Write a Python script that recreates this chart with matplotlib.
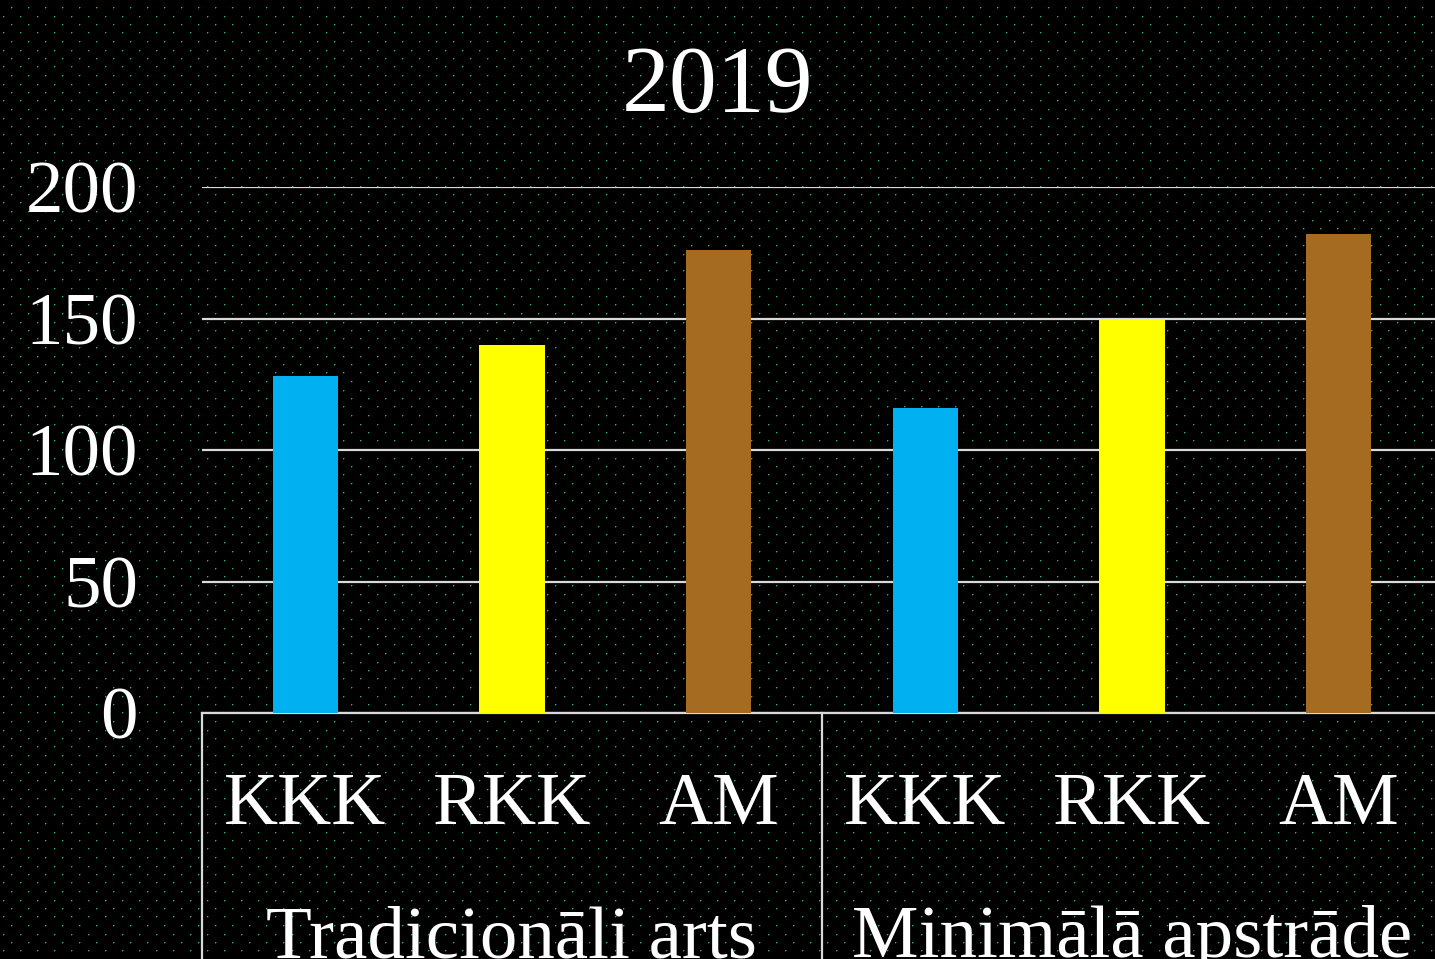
import numpy as np
import matplotlib.pyplot as plt

plt.rcParams['font.family'] = ['Liberation Serif', 'DejaVu Serif']

# data
title = '2019'
groups = ['Tradicionāli arts', 'Minimālā apstrāde']
series = ['KKK', 'RKK', 'AM']
colors = ['#00b0f0', '#ffff00', '#a56b21']
values_trad = [128, 140, 176]
values_min = [116, 150, 182]
yticks = [0, 50, 100, 150, 200]

W, H = 1435, 959
fig = plt.figure(figsize=(W / 100, H / 100), dpi=100)
fig.patch.set_facecolor('black')

# dotted background
bg = np.zeros((H, W, 3))
dot = np.array([40, 175, 140]) / 255.0
dot2 = np.array([15, 70, 55]) / 255.0
for k in range(int(H / 8.5) + 1):
    yy = int(round(7 + 8.5 * k))
    if yy + 1 >= H:
        break
    x0 = 11 if k % 2 == 0 else 3
    bg[yy, x0::17] = dot
    bg[yy + 1, x0::17] = dot2
    bg[yy, x0 + 1::17] = dot2
im = fig.figimage(bg, xo=0, yo=0, origin='upper')
im.set_zorder(-5)

# axes placement in pixels
left, right, top, bottom = 202, 1442, 187, 713
ax = fig.add_axes([left / W, (H - bottom) / H, (right - left) / W, (bottom - top) / H])
ax.set_facecolor('none')

vals = values_trad + values_min
cols = colors * 2
x = np.arange(len(vals))
ax.bar(x, vals, width=0.315, color=cols, zorder=3)

ax.set_xlim(-0.5, len(vals) - 0.5)
ax.set_ylim(0, 200)
ax.set_yticks(yticks)
ax.set_yticklabels([str(t) for t in yticks], color='white', fontsize=54)
ax.tick_params(axis='y', length=0, pad=46)
ax.set_xticks([])
ax.yaxis.grid(True, color='#d9d9d9', linewidth=1.6, zorder=1)
ax.set_axisbelow(True)
for s in ['left', 'right', 'top']:
    ax.spines[s].set_visible(False)
ax.spines['bottom'].set_color('#d9d9d9')
ax.spines['bottom'].set_linewidth(1.6)

tr = ax.get_xaxis_transform()
# category labels
for i, v in enumerate(vals):
    ax.text(i, -0.177, series[i % 3], transform=tr, ha='center', va='center',
            color='white', fontsize=54)
# group labels
for g, name in enumerate(groups):
    ax.text(g * 3 + 1, -0.464, name, transform=tr, ha='center', va='baseline',
            color='white', fontsize=54)
# group separators
for xs in [-0.5, 2.5, 5.5]:
    ax.plot([xs, xs], [0, -1], transform=tr, color='#d9d9d9', linewidth=1.6,
            clip_on=False)

fig.text(0.5, 1 - 89 / H, title, ha='center', va='center', color='white', fontsize=69)

fig.savefig('out.png', dpi=100, facecolor='black')
